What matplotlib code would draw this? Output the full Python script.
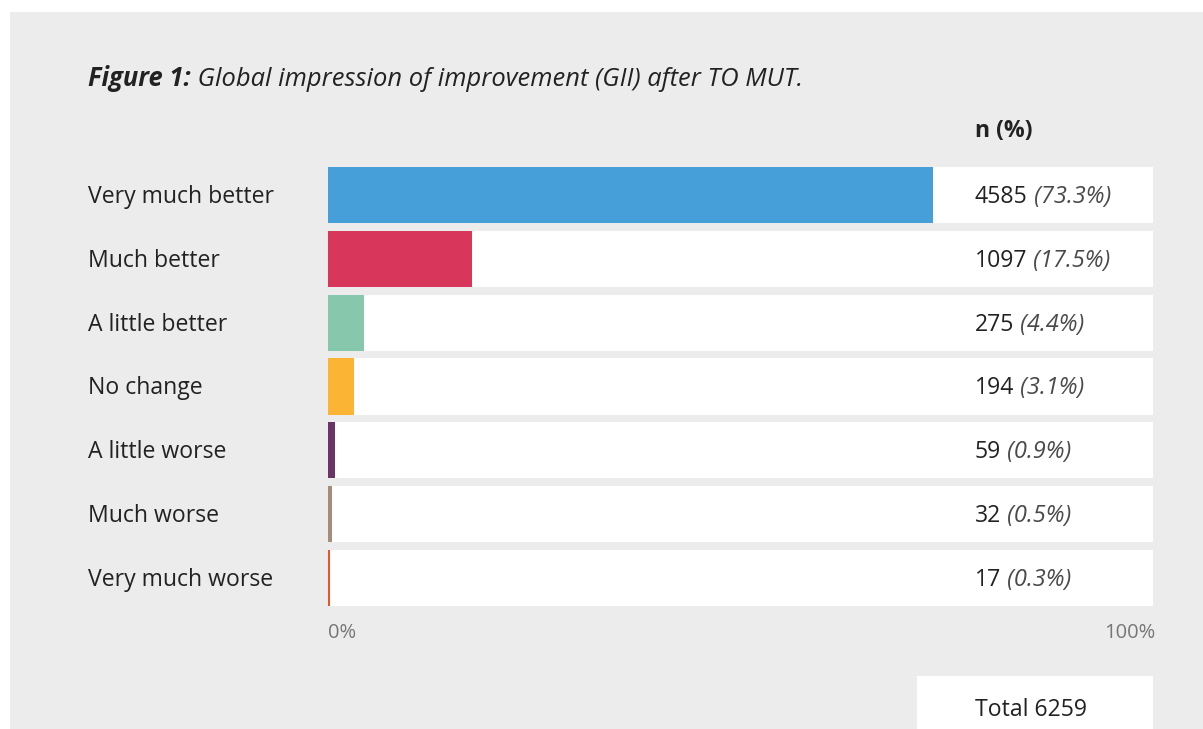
import matplotlib.pyplot as plt
from matplotlib.patches import Rectangle

plt.rcParams['font.family'] = ['Open Sans', 'DejaVu Sans']

# Data
categories = ['Very much better', 'Much better', 'A little better', 'No change',
              'A little worse', 'Much worse', 'Very much worse']
counts = [4585, 1097, 275, 194, 59, 32, 17]
percents = [73.3, 17.5, 4.4, 3.1, 0.9, 0.5, 0.3]
total = 6259
colors = ['#469fd9', '#d8365a', '#87c8ad', '#fbb434', '#6b3469', '#a68c7b', '#f2521f']

W, H = 1203, 729
fig = plt.figure(figsize=(W / 100, H / 100), dpi=100, facecolor='white')


def fx(px):
    return px / W


def fy(py):
    return 1 - py / H


# grey panel behind everything
fig.patches.append(Rectangle((fx(10), 0), 1, fy(12), transform=fig.transFigure,
                             facecolor='#ececec', edgecolor='none', zorder=-5))

# axes spans 0..100% horizontally, rows vertically
ax = fig.add_axes([fx(328), fy(606), fx(1153) - fx(328), fy(167) - fy(606)])
ax.set_facecolor('none')
n = len(categories)
pos = list(range(n))
bh = 0.88
ax.barh(pos, [100] * n, height=bh, color='white', zorder=1)
ax.barh(pos, percents, height=bh, color=colors, zorder=2)
ax.set_xlim(0, 100)
ax.set_ylim(n - 1 + bh / 2, -bh / 2)
ax.axis('off')

fs = 16.6
dy = 0.03  # small nudge down so text sits in the middle of each row
label_x = (88 - 328) / 825
for i, cat in enumerate(categories):
    ax.text(label_x, i + dy, cat, transform=ax.get_yaxis_transform(), ha='left',
            va='center', fontsize=fs, color='#222222')
    t = ax.text(78.4, i + dy, f'{counts[i]}', ha='left', va='center', fontsize=fs,
                color='#222222', zorder=3)
    ax.annotate(f' ({percents[i]}%)', xy=(1, 0), xycoords=t, ha='left', va='bottom',
                fontsize=17, style='italic', color='#4a4a4a', zorder=3)

ax.text(78.4, -bh / 2 - 0.56, 'n (%)', ha='left', va='center', fontsize=fs,
        fontweight='bold', color='#222222')
ax.text(0, n - 1 + bh / 2 + 0.42, '0%', ha='left', va='center', fontsize=14.5,
        color='#777777')
ax.text(100.3, n - 1 + bh / 2 + 0.42, '100%', ha='right', va='center', fontsize=14.5,
        color='#777777')

# title
t1 = fig.text(fx(88), fy(78), 'Figure 1:', ha='left', va='center', fontsize=18.4,
              fontweight='bold', style='italic', color='#222222')
ax.annotate(' Global impression of improvement (GII) after TO MUT.', xy=(1, 0), xycoords=t1,
            ha='left', va='bottom', fontsize=18.4, style='italic', color='#222222',
            annotation_clip=False)

# total box
fig.patches.append(Rectangle((fx(917), 0), fx(1153) - fx(917), fy(676),
                             transform=fig.transFigure, facecolor='white',
                             edgecolor='none', zorder=1))
fig.text(fx(975), fy(710), f'Total {total}', ha='left', va='center', fontsize=fs,
         color='#222222')

fig.savefig('out.png', dpi=100, facecolor='white')
